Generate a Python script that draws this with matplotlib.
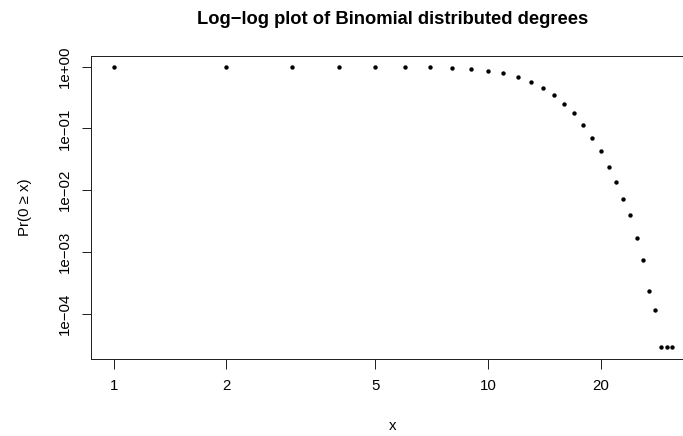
import numpy as np
import matplotlib
matplotlib.use("Agg")
from matplotlib import pyplot as plt

# degree values and Pr(X >= x)
degree = [1, 2, 3, 4, 5, 6, 7, 8, 9, 10, 11, 12, 13, 14, 15, 16,
          17, 18, 19, 20, 21, 22, 23, 24, 25, 26, 27, 28, 29, 30, 31]
prob = [1.0, 1.0, 1.0, 0.999, 0.996, 0.99, 0.977, 0.953, 0.918, 0.852,
        0.781, 0.681, 0.566, 0.452, 0.344, 0.249, 0.176, 0.1155, 0.0711,
        0.0433, 0.0242, 0.01365, 0.00734, 0.00395, 0.00168, 0.000738,
        0.00023, 0.000115, 2.86e-5, 2.86e-5, 2.86e-5]

xticks = [1, 2, 5, 10, 20]
xticklabels = ["1", "2", "5", "10", "20"]
yticks = [1e0, 1e-1, 1e-2, 1e-3, 1e-4]
yticklabels = ["1e+00", "1e\u221201", "1e\u221202", "1e\u221203", "1e\u221204"]

plt.rcParams['font.family'] = ['Liberation Sans', 'DejaVu Sans']

W, H, DPI = 683, 436, 72
fig = plt.figure(figsize=(W / DPI, H / DPI), dpi=DPI)

# R-style 4% padding on the log axes
lx = np.log10(degree)
ly = np.log10(prob)
dx = (lx.max() - lx.min()) * 0.04
dy = (ly.max() - ly.min()) * 0.04
xlim = (10 ** (lx.min() - dx), 10 ** (lx.max() + dx))
ylim = (10 ** (ly.min() - dy), 10 ** (ly.max() + dy))

# plot box (pixels): left 91.3, top 55.5, bottom 358.5, ~374 px per decade
# (the right side of the box runs off the picture, as in the reference)
px_dec = 374.3
left, top, bottom = 91.3, 55.5, 358.5
width = (np.log10(xlim[1]) - np.log10(xlim[0])) * px_dec
ax = fig.add_axes([left / W, (H - bottom) / H, width / W, (bottom - top) / H])

ax.plot(degree, prob, 'o', color='black', markersize=4.4, markeredgewidth=0)
ax.set_xscale('log')
ax.set_yscale('log')
ax.set_xlim(xlim)
ax.set_ylim(ylim)

ax.set_xticks(xticks)
ax.set_xticklabels(xticklabels)
ax.set_yticks(yticks)
ax.set_yticklabels(yticklabels, rotation=90, va='center')
ax.minorticks_off()
ax.tick_params(axis='both', direction='out', length=9.5, width=1.0,
               labelsize=15, color='#222222')
ax.tick_params(axis='x', pad=11)
ax.tick_params(axis='y', pad=10)
for s in ax.spines.values():
    s.set_linewidth(1.0)
    s.set_color('#222222')

cx = left + width / 2
fig.text(cx / W, 1 - 430 / H, "x", fontsize=15, ha='center', va='baseline')
fig.text(25 / W, 1 - 207 / H, "Pr(0 \u2265 x)", fontsize=15, rotation=90,
         ha='center', va='center')
fig.text(cx / W, 1 - 24 / H, "Log\u2212log plot of Binomial distributed degrees",
         fontsize=18.4, fontweight='bold', ha='center', va='baseline')

fig.savefig("out.png", dpi=DPI)
